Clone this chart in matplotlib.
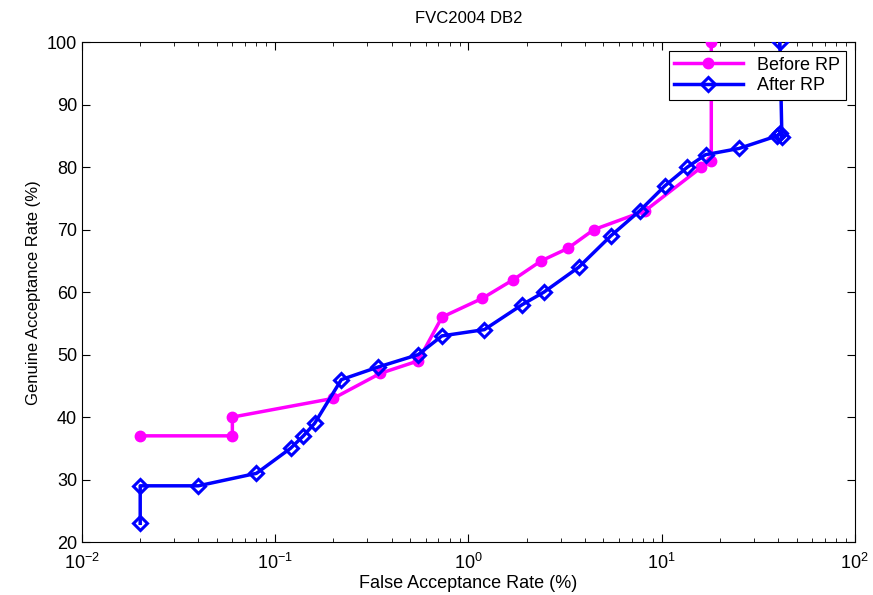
import matplotlib
matplotlib.use("Agg")
import matplotlib.pyplot as plt

plt.rcParams['font.family'] = ['Liberation Sans', 'DejaVu Sans']
plt.rcParams['mathtext.fontset'] = 'custom'
plt.rcParams['mathtext.rm'] = 'Liberation Sans'

# Before RP (magenta)
far_before = [0.02, 0.06, 0.06, 0.2, 0.35, 0.55, 0.73, 1.18, 1.71, 2.38, 3.27,
              4.46, 8.2, 16.1, 18.1, 18.1]
gar_before = [37, 37, 40, 43, 47, 49, 56, 59, 62, 65, 67, 70, 73, 80, 81, 100]

# After RP (blue)
far_after = [0.02, 0.02, 0.04, 0.08, 0.12, 0.14, 0.16, 0.22, 0.34, 0.55, 0.73,
             1.21, 1.9, 2.46, 3.73, 5.46, 7.7, 10.4, 13.6, 16.9, 25.2, 39.5,
             41, 42, 41]
gar_after = [23, 29, 29, 31, 35, 37, 39, 46, 48, 50, 53, 54, 58, 60, 64, 69,
             73, 77, 80, 82, 83, 85, 85.4, 84.8, 100]

fig = plt.figure(figsize=(8.73, 5.95), dpi=100)
ax = fig.add_axes([0.094, 0.089, 0.885, 0.84])

ax.plot(far_before, gar_before, color='#ff00ff', lw=2.5, marker='o',
        markersize=7.5, markerfacecolor='#ff00ff', markeredgecolor='#ff00ff',
        label='Before RP', zorder=3)
ax.plot(far_after, gar_after, color='#0000ff', lw=2.5, marker='D',
        markersize=7, markerfacecolor='none', markeredgecolor='#0000ff',
        markeredgewidth=2.2, label='After RP', zorder=4)

ax.set_xscale('log')
ax.set_xlim(1e-2, 1e2)
ax.set_ylim(20, 100)
ax.set_yticks(range(20, 101, 10))

ax.tick_params(which='both', direction='in', top=True, right=True,
               labelsize=13)
ax.tick_params(axis='x', which='both', pad=8)
ax.tick_params(which='major', length=6)
ax.tick_params(which='minor', length=3)

ax.set_title('FVC2004 DB2', fontsize=12, pad=14)
ax.set_xlabel('False Acceptance Rate (%)', fontsize=13, labelpad=1)
ax.set_ylabel('Genuine Acceptance Rate (%)', fontsize=12)

leg = ax.legend(loc='upper right', fontsize=13, fancybox=False,
                framealpha=1, borderaxespad=0.5, handlelength=3.8,
                labelspacing=0.2, borderpad=0.3)
leg.get_frame().set_edgecolor('black')
leg.get_frame().set_linewidth(0.8)

fig.savefig('out.png', dpi=100)
